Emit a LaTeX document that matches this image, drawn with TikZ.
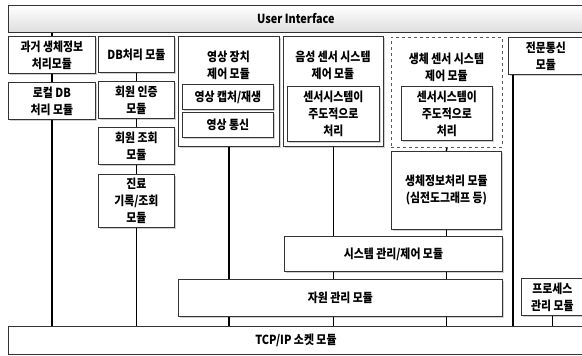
\documentclass[tikz,border=0pt]{standalone}
\usepackage{fontspec}
\setmainfont{Noto Sans CJK KR}[FakeStretch=0.87]
\usetikzlibrary{shadows}
\begin{document}
\begin{tikzpicture}[x=1pt,y=-1pt,
  txt/.style={font=\bfseries\fontsize{12.5}{17}\selectfont, align=center, inner sep=0pt},
  box/.style={txt, draw=black!80, line width=0.8pt, fill=white, anchor=north west,
    drop shadow={shadow xshift=1.2pt, shadow yshift=-1.2pt, opacity=0.3, fill=black!60}},
  plain/.style={txt, draw=black!80, line width=0.8pt, fill=white, anchor=north west},
  conn/.style={draw=black, line width=1.4pt}]
\fill[white] (0,0) rectangle (582,356);
\useasboundingbox (0,0) rectangle (582,356);

\node[plain, top color=white, bottom color=black!13, minimum width=575pt, minimum height=27pt] (ui) at (8,5) {User Interface};

\node[box, minimum width=87pt, minimum height=37pt] (past) at (8,36) {과거 생체정보\\처리모듈};
\node[box, minimum width=87pt, minimum height=37pt] (local) at (8,82) {로컬 DB\\처리 모듈};

\node[box, minimum width=76pt, minimum height=36pt] (db) at (98,36) {DB처리 모듈};
\node[box, minimum width=76pt, minimum height=37pt] (auth) at (98,81) {회원 인증\\모듈};
\node[box, minimum width=76pt, minimum height=37pt] (query) at (98,127) {회원 조회\\모듈};
\node[box, minimum width=76pt, minimum height=53pt] (record) at (98,174) {진료\\기록/조회\\모듈};

\node[box, minimum width=101pt, minimum height=110pt] (video) at (178,36) {};
\node[txt] (videot) at (228.5,65) {영상 장치\\제어 모듈};
\node[box, minimum width=91pt, minimum height=25pt] (cap) at (182,84) {영상 캡처/재생};
\node[box, minimum width=91pt, minimum height=25pt] (vcomm) at (182,112) {영상 통신};

\node[box, minimum width=100pt, minimum height=110pt] (voice) at (283,36) {};
\node[txt] (voicet) at (333,65) {음성 센서 시스템\\제어 모듈};
\node[box, minimum width=92pt, minimum height=55pt] (vsens) at (287,86) {센서시스템이\\주도적으로\\처리};

\node[plain, dashed, draw=black!65, minimum width=111pt, minimum height=110pt] (bio) at (391,37) {};
\node[txt] (biot) at (446.5,67) {생체 센서 시스템\\제어 모듈};
\node[box, minimum width=91pt, minimum height=54pt] (bsens) at (401,86) {센서시스템이\\주도적으로\\처리};
\node[box, minimum width=110pt, minimum height=78pt] (bioinfo) at (391,151) {생체정보처리 모듈\\(심전도그래프 등)};

\node[box, minimum width=218pt, minimum height=35pt] (sys) at (284,236) {시스템 관리/제어 모듈};
\node[box, minimum width=324pt, minimum height=37pt] (res) at (178,279) {자원 관리 모듈};

\node[box, minimum width=75pt, minimum height=37pt] (comm) at (508,37) {전문통신\\모듈};
\node[box, minimum width=62pt, minimum height=37pt] (proc) at (521,278) {프로세스\\관리 모듈};

\node[plain, minimum width=575pt, minimum height=28pt] (tcp) at (8,326) {TCP/IP 소켓 모듈};

\coordinate (c6) at (513,100);

\draw[conn] (ui.south -| past) -- (past.north);
\draw[conn] (past.south) -- (local.north);
\draw[conn] (local.south) -- (tcp.north -| local);

\draw[conn] (db.south) -- (auth.north);
\draw[conn] (auth.south) -- (query.north);
\draw[conn] (query.south) -- (record.north);
\draw[conn] (record.south) -- (tcp.north -| record);

\draw[conn] (video.south) -- (res.north -| video);
\draw[conn] (res.south -| video) -- (tcp.north -| video);

\draw[conn] (voice.south) -- (sys.north -| voice);
\draw[conn] (sys.south -| voice) -- (res.north -| voice);
\draw[conn] (res.south -| voice) -- (tcp.north -| voice);

\draw[conn] (bio.south) -- (bioinfo.north);
\draw[conn] (bioinfo.south) -- (sys.north -| bioinfo);
\draw[conn] (sys.south -| bioinfo) -- (res.north -| bioinfo);
\draw[conn] (res.south -| bioinfo) -- (tcp.north -| bioinfo);

\draw[conn] (comm.south -| c6) -- (tcp.north -| c6);
\draw[conn] (proc.south) -- (tcp.north -| proc);
\end{tikzpicture}
\end{document}
